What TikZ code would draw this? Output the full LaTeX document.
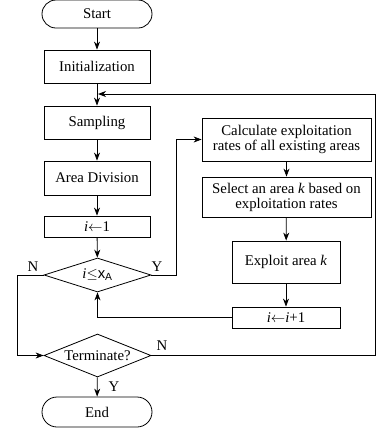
\documentclass[tikz,border=0pt]{standalone}
\usepackage{fontspec}
\setmainfont{Liberation Serif}
\setsansfont{Liberation Sans}
\usetikzlibrary{shapes.geometric,arrows.meta}
\begin{document}
\begin{tikzpicture}[x=1pt,y=-1pt,
  font=\fontsize{14.8}{17}\selectfont,
  line width=0.8pt,
  proc/.style={draw, rectangle, inner sep=0pt, align=center},
  term/.style={draw, rectangle, rounded corners=14pt, inner sep=0pt},
  dia/.style={draw, diamond, inner sep=0pt},
  arr/.style={-{Stealth[length=8pt,width=6pt,inset=2.5pt]}},
  lbl/.style={inner sep=0pt}]
\useasboundingbox (0,0) rectangle (376,429);
\node[term, minimum width=110pt, minimum height=28pt] (start) at (97,14) {Start};
\node[proc, minimum width=106pt, minimum height=33pt] (init) at (97,66.5) {Initialization};
\node[proc, minimum width=106pt, minimum height=33pt] (samp) at (97,122.5) {Sampling};
\node[proc, minimum width=106pt, minimum height=34pt] (area) at (97,178) {Area Division};
\node[proc, minimum width=106pt, minimum height=21pt] (ione) at (97,226.5) {\textit{i}$\leftarrow$1};
\node[dia, minimum width=107pt, minimum height=34pt] (dec) at (97.5,275) {};
\node at (dec) {\textit{i}$\leq$\textsf{x}\textsubscript{\textsf{A}}};
\node[dia, minimum width=107pt, minimum height=43pt] (term) at (97.5,355.5) {};
\node at (term) {Terminate?};
\node[term, minimum width=110pt, minimum height=30pt, rounded corners=15pt] (endn) at (97,412) {End};
\node[proc, minimum width=169pt, minimum height=43pt] (calc) at (286.5,139.5) {Calculate exploitation\\[-2pt]rates of all existing areas};
\node[proc, minimum width=169pt, minimum height=40pt] (sel) at (286.5,197) {Select an area \textit{k} based on\\[-2pt]exploitation rates};
\node[proc, minimum width=108pt, minimum height=42pt] (expl) at (286,262) {Exploit area \textit{k}};
\node[proc, minimum width=108pt, minimum height=21pt] (inc) at (286,317.5) {\textit{i}$\leftarrow$\textit{i}+1};
\coordinate (loopin) at (97,94);
\coordinate (rtop) at (375,94);
\coordinate (rbot) at (375,355.5);
\coordinate (yup) at (176,275);
\coordinate (ytop) at (176,139.5);
\coordinate (nleft) at (17,275);
\coordinate (nbot) at (17,355.5);
\coordinate (back) at (97.5,317.5);
\draw[arr] (start) -- (init);
\draw[arr] (init) -- (samp);
\draw[arr] (samp) -- (area);
\draw[arr] (area) -- (ione);
\draw[arr] (ione) -- (dec);
\draw[arr] (term) -- (endn);
\draw[arr] (calc) -- (sel);
\draw[arr] (sel) -- (expl);
\draw[arr] (expl) -- (inc);
\draw[arr] (dec.east) -- (yup) -- (ytop) -- (calc.west);
\draw[arr] (inc.west) -- (back) -- (dec.south);
\draw[arr] (dec.west) -- (nleft) -- (nbot) -- (term.west);
\draw[arr] (term.east) -- (rbot) -- (rtop) -- ([xshift=1pt]loopin);
\node[lbl] (n1) at (33,267) {N};
\node[lbl] (y1) at (157,267) {Y};
\node[lbl] (n2) at (162,346) {N};
\node[lbl] (y2) at (114,387) {Y};
\end{tikzpicture}
\end{document}
